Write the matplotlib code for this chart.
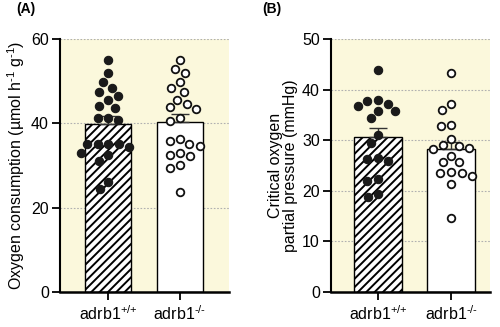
import numpy as np
import matplotlib
matplotlib.use("Agg")
import matplotlib.pyplot as plt

plt.rcParams['font.family'] = ['Liberation Sans', 'DejaVu Sans']
plt.rcParams['mathtext.fontset'] = 'custom'
plt.rcParams['mathtext.rm'] = 'Liberation Sans'
plt.rcParams['mathtext.it'] = 'Liberation Sans:italic'
plt.rcParams['mathtext.bf'] = 'Liberation Sans:bold'
plt.rcParams['hatch.linewidth'] = 1.4

groups = [r"adrb1$^{\text{+/+}}$", r"adrb1$^{\text{-/-}}$"]

# Panel A: oxygen consumption
a_wt = [55.0, 52.0, 49.8, 47.5, 48.4, 46.4, 45.5, 44.2, 43.6, 40.7, 41.2, 41.2,
        35.0, 35.0, 34.4, 35.0, 35.1, 32.9, 32.4, 31.1, 26.0, 24.5]
a_ko = [55.0, 52.8, 52.0, 49.8, 48.4, 47.5, 45.6, 44.6, 43.8, 43.5, 40.5, 41.2,
        36.2, 34.7, 32.9, 35.0, 35.7, 32.2, 32.5, 30.2, 29.5, 23.8]
a_mean = [39.8, 40.3]
a_sem = [1.9, 1.9]

# Panel B: critical oxygen partial pressure
b_wt = [43.9, 38.0, 36.7, 37.2, 37.7, 35.8, 35.8, 34.3, 31.0, 29.5, 26.5, 25.9,
        26.2, 22.0, 22.3, 18.7, 19.4]
b_ko = [43.2, 37.1, 36.0, 32.8, 33.0, 30.3, 28.9, 28.2, 28.4, 29.0, 26.9, 25.6,
        25.6, 23.5, 23.0, 23.6, 23.8, 21.4, 14.6]
b_mean = [30.6, 28.2]
b_sem = [1.9, 1.5]

BG = '#FBF8DC'

fig = plt.figure(figsize=(5.0, 3.27), dpi=100)
axA = fig.add_axes([60/500, 1-292/327, 169/500, 253/327])
axB = fig.add_axes([331/500, 1-292/327, 159/500, 253/327])


def swarm_offsets(ax, x0, vals, d_px):
    # seaborn-like beeswarm in pixel space: nearest-to-centre free slot
    order = np.argsort(vals)[::-1]
    placed = []
    offs = np.zeros(len(vals))
    x0p = ax.transData.transform((x0, 0))[0]
    for i in order:
        yp = ax.transData.transform((x0, vals[i]))[1]
        cands = [0.0]
        for px, py in placed:
            dy = abs(yp - py)
            if dy < d_px:
                dx = np.sqrt(d_px ** 2 - dy ** 2) + 0.01
                cands += [px + dx, px - dx]
        cands = sorted(cands, key=lambda c: (abs(c), c))
        best = 0.0
        for c in cands:
            if all((c - px) ** 2 + (yp - py) ** 2 >= d_px ** 2 - 1e-6 for px, py in placed):
                best = c
                break
        placed.append((best, yp))
        xd = ax.transData.inverted().transform((x0p + best, yp))[0]
        offs[i] = xd - x0
    return offs


def panel(ax, wt, ko, means, sems, ymax, ystep, xlim, ylabel):
    ax.set_facecolor(BG)
    ax.set_xlim(*xlim)
    ax.set_ylim(0, ymax)
    ax.set_yticks(np.arange(0, ymax + 1, ystep))
    for v in np.arange(ystep, ymax + 1, ystep):
        ax.axhline(v, color='#b0b0b0', lw=0.8, ls=(0, (1.5, 1.5)), zorder=0.5)
    ax.bar([0], [means[0]], width=0.65, color='white', edgecolor='black',
           hatch='////', lw=1.0, zorder=2)
    ax.bar([1], [means[1]], width=0.65, color='white', edgecolor='black',
           lw=1.0, zorder=2)
    ax.errorbar([0, 1], means, yerr=[[0, 0], sems], fmt='none', ecolor='#333333',
                elinewidth=1.0, capsize=6.5, capthick=1.0, zorder=3)
    d_px = 10.5
    o1 = swarm_offsets(ax, 0, np.array(wt), d_px)
    o2 = swarm_offsets(ax, 1, np.array(ko), d_px)
    ax.scatter(0 + o1, wt, s=36, color='#1a1a1a', edgecolor='#1a1a1a', lw=0.8, zorder=4)
    ax.scatter(1 + o2, ko, s=30, color='white', edgecolor='#111111', lw=1.3, zorder=4)
    ax.set_xticks([0, 1])
    ax.set_xticklabels(groups, fontsize=11.5)
    ax.tick_params(axis='y', labelsize=11.5, length=6, width=1.3, direction='out', pad=2)
    ax.tick_params(axis='x', length=6, width=1.3, direction='out', pad=3)
    for s in ['top', 'right']:
        ax.spines[s].set_visible(False)
    ax.spines['left'].set_linewidth(1.5)
    ax.spines['bottom'].set_linewidth(1.8)
    ax.set_ylabel(ylabel, fontsize=11.5, labelpad=3, linespacing=1.0)


panel(axA, a_wt, a_ko, a_mean, a_sem, 60, 20, (-0.667, 1.68),
      r'Oxygen consumption (µmol h$^{\text{-1}}$ g$^{\text{-1}}$)')
panel(axB, b_wt, b_ko, b_mean, b_sem, 50, 10, (-0.64, 1.53),
      'Critical oxygen\npartial pressure (mmHg)')

fig.text(16/500, 1-9/327, '(A)', fontsize=10, fontweight='bold', ha='left', va='center')
fig.text(262/500, 1-9/327, '(B)', fontsize=10, fontweight='bold', ha='left', va='center')

fig.savefig('out.png', dpi=100)
